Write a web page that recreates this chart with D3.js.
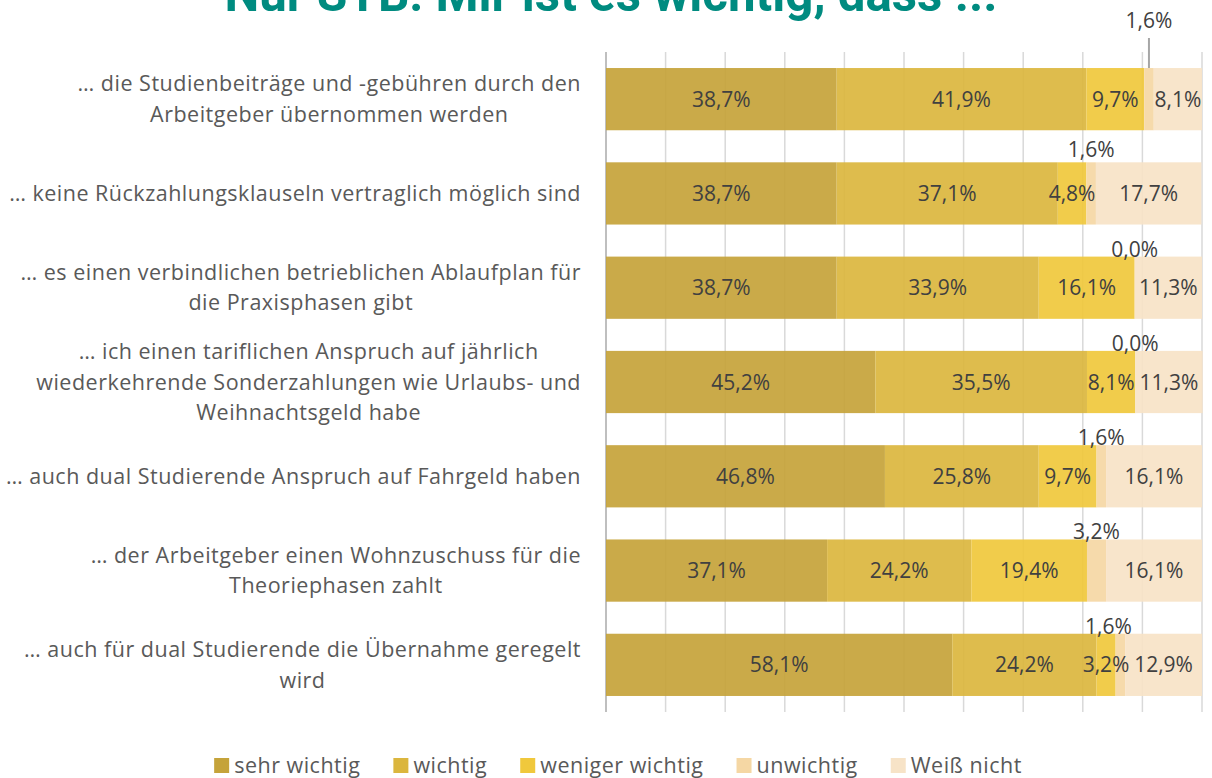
<!DOCTYPE html>
<html lang="de">
<head>
<meta charset="utf-8">
<script src="https://cdn.jsdelivr.net/npm/d3@7"></script>
<style>
  html, body { margin: 0; padding: 0; background: #fff; }
  svg { display: block; }
  text { font-family: "Open Sans", "Noto Sans", sans-serif; }
</style>
</head>
<body>
<svg id="chart" width="1212" height="778"></svg>
<script>
// Survey items (each may hold several wrapped lines)
const categories = [
  ["… die Studienbeiträge und -gebühren durch den", "Arbeitgeber übernommen werden"],
  ["… keine Rückzahlungsklauseln vertraglich möglich sind"],
  ["… es einen verbindlichen betrieblichen Ablaufplan für", "die Praxisphasen gibt"],
  ["… ich einen tariflichen Anspruch auf jährlich", "wiederkehrende Sonderzahlungen wie Urlaubs- und", "Weihnachtsgeld habe"],
  ["… auch dual Studierende Anspruch auf Fahrgeld haben"],
  ["… der Arbeitgeber einen Wohnzuschuss für die", "Theoriephasen zahlt"],
  ["… auch für dual Studierende die Übernahme geregelt", "wird"]
];

const seriesNames = ["sehr wichtig", "wichtig", "weniger wichtig", "unwichtig", "Weiß nicht"];

// Shares in percent, one array per answer option, in item order
const sehrWichtig    = [38.7, 38.7, 38.7, 45.2, 46.8, 37.1, 58.1];
const wichtig        = [41.9, 37.1, 33.9, 35.5, 25.8, 24.2, 24.2];
const wenigerWichtig = [ 9.7,  4.8, 16.1,  8.1,  9.7, 19.4,  3.2];
const unwichtig      = [ 1.6,  1.6,  0.0,  0.0,  1.6,  3.2,  1.6];
const weissNicht     = [ 8.1, 17.7, 11.3, 11.3, 16.1, 16.1, 12.9];

const xTicks = [0, 10, 20, 30, 40, 50, 60, 70, 80, 90, 100];

const titleText = "Nur STB: Mir ist es wichtig, dass ...";

const seriesValues = [sehrWichtig, wichtig, wenigerWichtig, unwichtig, weissNicht];
const colors = ["#C5A33A", "#DBB63E", "#F0C83C", "#F5D7A4", "#F7E3C7"];

const svg = d3.select("#chart");
const de = d3.formatLocale({ decimal: ",", thousands: ".", grouping: [3], currency: ["", " €"] });
const pct = v => de.format(".1f")(v) + "%";

const x = d3.scaleLinear().domain([0, 100]).range([606, 1202]);
const y = d3.scaleBand()
  .domain(d3.range(categories.length))
  .range([52, 712])
  .paddingInner(0.34)
  .paddingOuter(0.17);

// stacked rows
const rows = categories.map((c, i) => {
  const r = { idx: i };
  seriesNames.forEach((s, k) => { r[s] = seriesValues[k][i]; });
  return r;
});
const stack = d3.stack().keys(seriesNames)(rows);

// title (only its lower part falls inside the canvas)
svg.append("text")
  .attr("x", 611).attr("y", 11)
  .attr("text-anchor", "middle")
  .attr("font-weight", 700)
  .attr("font-size", 50)
  .attr("fill", "#008B80")
  .style("font-family", "Roboto, sans-serif")
  .attr("textLength", 773)
  .attr("lengthAdjust", "spacingAndGlyphs")
  .text(titleText);

// vertical gridlines
svg.append("g").selectAll("line")
  .data(xTicks.slice(1))
  .join("line")
  .attr("x1", d => x(d)).attr("x2", d => x(d))
  .attr("y1", 52).attr("y2", 712)
  .attr("stroke", "#D9D9D9").attr("stroke-width", 1.5);

// category axis line
svg.append("line")
  .attr("x1", x(0)).attr("x2", x(0))
  .attr("y1", 52).attr("y2", 712)
  .attr("stroke", "#BFBFBF").attr("stroke-width", 2);

// bars
const layers = svg.append("g").selectAll("g")
  .data(stack)
  .join("g")
  .attr("fill", (d, i) => colors[i])
  .attr("fill-opacity", 0.92);

layers.selectAll("rect")
  .data(d => d)
  .join("rect")
  .attr("x", d => x(d[0]))
  .attr("width", d => Math.max(0, x(d[1]) - x(d[0])))
  .attr("y", d => y(d.data.idx))
  .attr("height", y.bandwidth());

// value labels
const labelG = svg.append("g")
  .attr("font-size", 21)
  .attr("fill", "#404040")
  .attr("text-anchor", "middle");

stack.forEach((layer, k) => {
  layer.forEach(d => {
    const i = d.data.idx;
    const v = d[1] - d[0];
    const cx = x((d[0] + d[1]) / 2);
    if (k === 3) {
      // thin "unwichtig" segment: label above the bar
      const top = y(i);
      if (i === 0) {
        svg.append("line")
          .attr("x1", cx).attr("x2", cx)
          .attr("y1", 38).attr("y2", top)
          .attr("stroke", "#A6A6A6").attr("stroke-width", 2);
        labelG.append("text").attr("x", cx).attr("y", 28).text(pct(v));
      } else {
        const nudgeX = i === 6 ? -12 : 0;
        const nudgeY = i === 1 ? -5 : 0;
        labelG.append("text")
          .attr("x", cx + nudgeX)
          .attr("y", top + nudgeY)
          .text(pct(v));
      }
    } else {
      labelG.append("text")
        .attr("x", cx)
        .attr("y", y(i) + y.bandwidth() / 2 + 7.5)
        .text(pct(v));
    }
  });
});

// category labels: lines centred on their block, block right-aligned
const catG = svg.append("g")
  .attr("font-size", 21.5)
  .attr("letter-spacing", 0.5)
  .attr("fill", "#595959");
const lineH = 30.5;
categories.forEach((lines, i) => {
  const g = catG.append("g");
  const texts = lines.map(l => g.append("text").text(l));
  const w = d3.max(texts, t => t.node().getComputedTextLength());
  const cx = 581 - w / 2;
  const cy = y(i) + y.bandwidth() / 2;
  const y0 = cy - (lines.length - 1) * lineH / 2 + 7.5;
  texts.forEach((t, j) => t.attr("x", cx).attr("y", y0 + j * lineH).attr("text-anchor", "middle"));
});

// legend
const legend = svg.append("g")
  .attr("font-size", 21.5)
  .attr("letter-spacing", 0.5)
  .attr("fill", "#595959");
const gap = 33;
let lx = 0;
seriesNames.forEach((s, k) => {
  const g = legend.append("g");
  g.append("rect").attr("x", 0).attr("y", -15).attr("width", 15).attr("height", 15).attr("fill", colors[k]);
  const t = g.append("text").attr("x", 20).attr("y", 0).text(s);
  const w = 20 + t.node().getComputedTextLength();
  g.attr("transform", `translate(${lx},0)`);
  lx += w + gap;
});
const totalW = lx - gap;
legend.attr("transform", `translate(${618 - totalW / 2},773)`);
</script>
</body>
</html>
